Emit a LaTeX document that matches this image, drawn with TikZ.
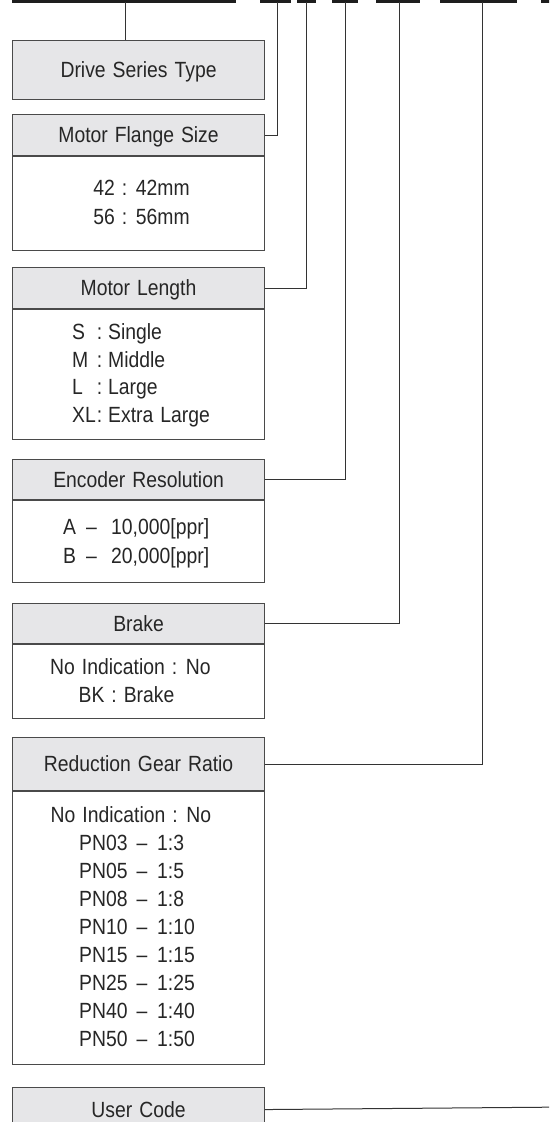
\documentclass[tikz,border=0pt]{standalone}
\usepackage{fontspec}
\setmainfont[FakeStretch=0.88,WordSpace=1.3]{Liberation Sans}
\definecolor{hdrfill}{HTML}{E6E6E8}
\definecolor{boxc}{HTML}{4A4A4A}
\definecolor{linec}{HTML}{333333}
\definecolor{barc}{HTML}{1E1E1E}
\definecolor{txtc}{HTML}{262626}
\tikzset{
  hdr/.style={draw=boxc, fill=hdrfill, line width=1.1pt, minimum width=252pt,
    anchor=north west, inner sep=0pt, text height=15.7pt, text depth=0pt, text=txtc},
  bodyb/.style={draw=boxc, fill=white, line width=1.1pt, minimum width=252pt,
    anchor=north west, inner sep=0pt},
  txt/.style={inner sep=0pt, text=txtc},
  conn/.style={draw=linec, line width=1pt},
  bar/.style={draw=barc, line width=3pt},
  every node/.style={font=\fontsize{22}{26}\selectfont}
}
\begin{document}
\begin{tikzpicture}[x=1pt,y=-1pt]
\useasboundingbox (0,0) rectangle (549,1122);
\clip (0,0) rectangle (549,1122);

% top code bar
\draw[bar] (12,1.5) -- (236,1.5);
\draw[bar] (260,1.5) -- (291,1.5);
\draw[bar] (297,1.5) -- (316,1.5);
\draw[bar] (332,1.5) -- (358,1.5);
\draw[bar] (376,1.5) -- (420,1.5);
\draw[bar] (440,1.5) -- (517,1.5);
\draw[bar] (541,1.5) -- (560,1.5);

\coordinate (t1) at (125,1.5);
\coordinate (t2) at (277,1.5);
\coordinate (t3) at (306,1.5);
\coordinate (t4) at (345,1.5);
\coordinate (t5) at (399,1.5);
\coordinate (t6) at (482,1.5);
\coordinate (t7) at (570,1107);

% boxes
\node[hdr, minimum height=59pt] (h1) at (12,40) {Drive Series Type};

\node[hdr, minimum height=41pt] (h2) at (12,114) {Motor Flange Size};
\node[bodyb, minimum height=94pt] (b2) at (h2.south west) {};

\node[hdr, minimum height=41pt] (h3) at (12,267) {Motor Length};
\node[bodyb, minimum height=130pt] (b3) at (h3.south west) {};

\node[hdr, minimum height=40pt] (h4) at (12,459) {Encoder Resolution};
\node[bodyb, minimum height=82pt] (b4) at (h4.south west) {};

\node[hdr, minimum height=40pt] (h5) at (12,603) {Brake};
\node[bodyb, minimum height=74pt] (b5) at (h5.south west) {};

\node[hdr, minimum height=53pt] (h6) at (12,737) {Reduction Gear Ratio};
\node[bodyb, minimum height=273pt] (b6) at (h6.south west) {};

\node[hdr, minimum height=44pt] (h7) at (12,1087) {User Code};

% connectors
\draw[conn] (t1) -- (t1 |- h1.north);
\draw[conn] (h2.east) -| (t2);
\draw[conn] (h3.east) -| (t3);
\draw[conn] (h4.east) -| (t4);
\draw[conn] (h5.east) -| (t5);
\draw[conn] (h6.east) -| (t6);
\draw[conn] (h7.east) -- (t7);

% Motor Flange Size
\node[txt, anchor=base] (f1) at (141.5,195.5) {42 : 42mm};
\node[txt, anchor=base] (f2) at (141.5,224.5) {56 : 56mm};

% Motor Length
\node[txt, anchor=base west] (lk1) at (72,339.5) {S};
\node[txt, anchor=base] (lc1) at (99.5,339.5) {:};
\node[txt, anchor=base west] (lv1) at (108,339.5) {Single};
\node[txt, anchor=base west] (lk2) at (72,367.2) {M};
\node[txt, anchor=base] (lc2) at (99.5,367.2) {:};
\node[txt, anchor=base west] (lv2) at (108,367.2) {Middle};
\node[txt, anchor=base west] (lk3) at (72,394.9) {L};
\node[txt, anchor=base] (lc3) at (99.5,394.9) {:};
\node[txt, anchor=base west] (lv3) at (108,394.9) {Large};
\node[txt, anchor=base west] (lk4) at (72,422.6) {XL};
\node[txt, anchor=base] (lc4) at (99.5,422.6) {:};
\node[txt, anchor=base west] (lv4) at (108,422.6) {Extra Large};

% Encoder Resolution
\node[txt, anchor=base west] (ek1) at (63,534.5) {A};
\node[txt, anchor=base] (ed1) at (91.5,534.5) {–};
\node[txt, anchor=base west] (ev1) at (111,534.5) {10,000[ppr]};
\node[txt, anchor=base west] (ek2) at (63,563.5) {B};
\node[txt, anchor=base] (ed2) at (91.5,563.5) {–};
\node[txt, anchor=base west] (ev2) at (111,563.5) {20,000[ppr]};

% Brake
\node[txt, anchor=base] (k1) at (130.5,674.5) {No Indication : No};
\node[txt, anchor=base] (k2) at (126.5,702.5) {BK : Brake};

% Reduction Gear Ratio
\node[txt, anchor=base] (g0) at (131,822.5) {No Indication : No};
\foreach \k/\r [count=\i] in {03/3,05/5,08/8,10/10,15/15,25/25,40/40,50/50}{
  \node[txt, anchor=base west] (pk\i) at (79,822.5+28*\i) {PN\k};
  \node[txt, anchor=base] (pd\i) at (142,822.5+28*\i) {–};
  \node[txt, anchor=base west] (pr\i) at (157,822.5+28*\i) {1:\r};
}
\end{tikzpicture}
\end{document}
